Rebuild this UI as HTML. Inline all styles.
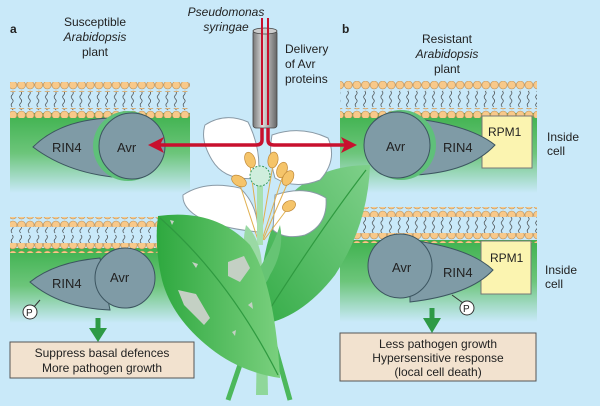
<!DOCTYPE html>
<html><head><style>
body{margin:0;width:600px;height:406px;overflow:hidden;background:#c9e9f9}
svg{display:block}
text{font-family:"Liberation Sans",sans-serif;fill:#222}
</style></head><body>
<svg width="600" height="406" viewBox="0 0 600 406">
<defs>
<pattern id="bead" x="0" y="0" width="8.6" height="10" patternUnits="userSpaceOnUse">
<circle cx="4.3" cy="5" r="4" fill="#f8c98a" stroke="#b88a50" stroke-width="0.6"/>
</pattern>
<pattern id="tail" x="0" y="0" width="8.6" height="18" patternUnits="userSpaceOnUse">
<path d="M3.5 1 q2 2 0 4 q-2 2 0 4 q2 2 0 4 q-2 2 0 4" fill="none" stroke="#333" stroke-width="0.6"/>
</pattern>
<linearGradient id="g" x1="0" y1="0" x2="0" y2="1">
<stop offset="0" stop-color="#3fb24f"/><stop offset="0.5" stop-color="#6cc57a"/><stop offset="1" stop-color="#c9e9f9"/>
</linearGradient>
<linearGradient id="tube" x1="0" x2="1">
<stop offset="0" stop-color="#777"/><stop offset="0.4" stop-color="#ddd"/><stop offset="1" stop-color="#666"/>
</linearGradient>
<linearGradient id="leaf" x1="0" x2="1">
<stop offset="0" stop-color="#2ea83f"/><stop offset="1" stop-color="#7ad07e"/>
</linearGradient>
<linearGradient id="leaf2" x1="1" y1="0" x2="0" y2="1">
<stop offset="0" stop-color="#7fd08a"/><stop offset="1" stop-color="#34ac47"/>
</linearGradient>
</defs>

<g>
<rect x="10" y="113" width="180" height="80" fill="url(#g)"/>
<rect x="10" y="82" width="180" height="10" fill="url(#bead)"/>
<rect x="10" y="92" width="180" height="18" fill="url(#tail)"/>
<rect x="10" y="108" width="180" height="10" fill="url(#bead)"/>
</g>
<g>
<rect x="10" y="248" width="180" height="75" fill="url(#g)"/>
<rect x="10" y="217" width="180" height="10" fill="url(#bead)"/>
<rect x="10" y="227" width="180" height="18" fill="url(#tail)"/>
<rect x="10" y="243" width="180" height="10" fill="url(#bead)"/>
</g>
<g>
<rect x="340" y="113" width="197" height="80" fill="url(#g)"/>
<rect x="340" y="81" width="197" height="10" fill="url(#bead)"/>
<rect x="340" y="91" width="197" height="18" fill="url(#tail)"/>
<rect x="340" y="108" width="197" height="10" fill="url(#bead)"/>
</g>
<g>
<rect x="340" y="240" width="197" height="82" fill="url(#g)"/>
<rect x="340" y="207" width="197" height="10" fill="url(#bead)"/>
<rect x="340" y="217" width="197" height="18" fill="url(#tail)"/>
<rect x="340" y="233" width="197" height="10" fill="url(#bead)"/>
</g>

<path d="M33 147 Q60 120 110 118 L125 178 Q70 175 33 147Z" fill="#7f9ba6" stroke="#3c5560" stroke-width="1"/>
<circle cx="128" cy="146" r="35" fill="#5fc07a"/>
<circle cx="132" cy="146" r="33" fill="#7f9ba6" stroke="#3c5560" stroke-width="1"/>
<text x="52" y="152" font-size="13">RIN4</text>
<text x="117" y="152" font-size="13">Avr</text>

<path d="M30 282 Q55 262 100 258 L110 310 Q60 308 30 282Z" fill="#7f9ba6" stroke="#3c5560" stroke-width="1"/>
<circle cx="125" cy="278" r="30" fill="#7f9ba6" stroke="#3c5560" stroke-width="1"/>
<text x="52" y="288" font-size="13">RIN4</text>
<text x="110" y="282" font-size="13">Avr</text>
<line x1="40" y1="300" x2="33" y2="308" stroke="#333"/>
<circle cx="30" cy="312" r="7" fill="#fff" stroke="#333"/>
<text x="26" y="316" font-size="10">P</text>

<rect x="482" y="116" width="50" height="52" fill="#fbf4b0" stroke="#777"/>
<text x="488" y="136" font-size="12">RPM1</text>
<path d="M410 118 Q470 125 495 145 Q470 172 415 175Z" fill="#7f9ba6" stroke="#3c5560" stroke-width="1"/>
<circle cx="401" cy="145" r="35" fill="#5fc07a"/>
<circle cx="397" cy="145" r="33" fill="#7f9ba6" stroke="#3c5560" stroke-width="1"/>
<text x="386" y="151" font-size="13">Avr</text>
<text x="443" y="152" font-size="13">RIN4</text>

<rect x="481" y="241" width="50" height="53" fill="#fbf4b0" stroke="#777"/>
<text x="490" y="262" font-size="12">RPM1</text>
<path d="M410 240 Q470 248 493 270 Q470 295 410 302Z" fill="#7f9ba6" stroke="#3c5560" stroke-width="1"/>
<circle cx="400" cy="266" r="32" fill="#7f9ba6" stroke="#3c5560" stroke-width="1"/>
<text x="392" y="272" font-size="13">Avr</text>
<text x="443" y="277" font-size="13">RIN4</text>
<line x1="452" y1="295" x2="463" y2="303" stroke="#333"/>
<circle cx="467" cy="308" r="7" fill="#fff" stroke="#333"/>
<text x="463" y="312" font-size="10">P</text>

<path d="M262 300 L228 400 M262 300 L290 400" stroke="#4cb85c" stroke-width="5" fill="none"/>
<path d="M258 290 L256 395 L268 395 L266 290Z" fill="#8fd79a"/>
<path d="M370 165 Q320 165 290 195 Q260 230 258 325 Q300 320 335 275 Q368 225 370 165Z" fill="url(#leaf2)"/>
<path d="M366 170 Q320 230 266 315" stroke="#2f9a40" stroke-width="1.2" fill="none"/>
<path d="M205 125 Q225 112 248 122 Q262 150 258 178 Q225 182 212 160 Q200 140 205 125Z" fill="#fff" stroke="#8a9aa6" stroke-width="1"/>
<path d="M272 135 Q300 125 328 138 Q338 160 320 180 Q295 190 275 178 Q268 155 272 135Z" fill="#fff" stroke="#8a9aa6" stroke-width="1"/>
<path d="M183 195 Q205 180 240 188 Q258 205 258 232 Q220 228 200 218 Q182 208 183 195Z" fill="#fff" stroke="#8a9aa6" stroke-width="1"/>
<path d="M275 195 Q305 185 326 198 Q328 225 305 235 Q285 240 273 230Z" fill="#fff" stroke="#8a9aa6" stroke-width="1"/>
<g stroke="#e0b050" stroke-width="1" fill="none">
<path d="M260 240 L250 165 M260 240 L273 165 M258 240 L240 185 M262 240 L283 175 M263 240 L288 182 M264 240 L288 208"/>
</g>
<rect x="257" y="180" width="6" height="65" fill="#a8e0b0"/>
<circle cx="260" cy="176" r="10" fill="#cfeedd" stroke="#3a9a60" stroke-width="1" stroke-dasharray="2 1.5"/>
<g fill="#f5c46a" stroke="#c08a3a" stroke-width="0.7">
<ellipse cx="250" cy="160" rx="5" ry="8" transform="rotate(-20 250 160)"/>
<ellipse cx="273" cy="160" rx="5" ry="8" transform="rotate(10 273 160)"/>
<ellipse cx="239" cy="181" rx="8" ry="5" transform="rotate(30 239 181)"/>
<ellipse cx="282" cy="170" rx="5" ry="8" transform="rotate(20 282 170)"/>
<ellipse cx="288" cy="178" rx="5" ry="8" transform="rotate(30 288 178)"/>
<ellipse cx="289" cy="206" rx="7" ry="5" transform="rotate(-30 289 206)"/>
</g>
<path d="M246 225 Q240 250 250 275 L262 270 Q262 240 246 225Z" fill="#9ad9a4"/>
<path d="M280 225 Q272 250 255 275 Q262 295 270 275 Q285 250 280 225Z" fill="#66c474"/>
<path d="M158 216 Q215 208 250 245 Q275 285 280 378 Q240 372 210 348 Q172 318 162 280 Q154 245 158 216Z" fill="url(#leaf)"/>
<path d="M160 218 Q230 280 278 375" stroke="#2f9a40" stroke-width="1.2" fill="none"/>
<g fill="#c4d0c4">
<path d="M228 262 L244 256 L250 268 L240 282 L228 276Z"/>
<path d="M178 290 L196 294 L210 318 L204 325 L184 305Z"/>
<path d="M192 262 L198 264 L196 268Z"/>
<path d="M248 305 L252 302 L253 309Z"/>
<path d="M232 332 L236 330 L235 336Z"/>
<path d="M170 220 L174 221 L172 225Z"/>
</g>

<rect x="253" y="30" width="24" height="98" rx="3" fill="url(#tube)" stroke="#444" stroke-width="0.8"/>
<ellipse cx="265" cy="31" rx="12" ry="3" fill="#ccc" stroke="#444" stroke-width="0.8"/>
<path d="M262 18 V125 M268 18 V125" stroke="#c8102e" stroke-width="2"/>
<path d="M262 128 V140 Q262 145 256 145 H160 M268 128 V140 Q268 145 274 145 H345" stroke="#c8102e" stroke-width="3.5" fill="none"/>
<path d="M148 145 L164 137 L160 145 L164 153Z" fill="#c8102e"/>
<path d="M357 145 L341 137 L345 145 L341 153Z" fill="#c8102e"/>

<path d="M98 318 V332 M432 308 V322" stroke="#2e9a46" stroke-width="5"/>
<path d="M89 328 L107 328 L98 342Z M423 318 L441 318 L432 333Z" fill="#2e9a46"/>

<rect x="10" y="342" width="184" height="36" fill="#f2e2cf" stroke="#555"/>
<text x="102" y="357" font-size="12" text-anchor="middle">Suppress basal defences</text>
<text x="102" y="372" font-size="12" text-anchor="middle">More pathogen growth</text>
<rect x="340" y="333" width="196" height="48" fill="#f2e2cf" stroke="#555"/>
<text x="438" y="348" font-size="12" text-anchor="middle">Less pathogen growth</text>
<text x="438" y="362" font-size="12" text-anchor="middle">Hypersensitive response</text>
<text x="438" y="376" font-size="12" text-anchor="middle">(local cell death)</text>

<text x="10" y="33" font-size="12" font-weight="bold">a</text>
<text x="342" y="33" font-size="12" font-weight="bold">b</text>
<text x="95" y="26" font-size="12" text-anchor="middle">Susceptible</text>
<text x="95" y="41" font-size="12" text-anchor="middle" font-style="italic">Arabidopsis</text>
<text x="95" y="56" font-size="12" text-anchor="middle">plant</text>
<text x="447" y="43" font-size="12" text-anchor="middle">Resistant</text>
<text x="447" y="58" font-size="12" text-anchor="middle" font-style="italic">Arabidopsis</text>
<text x="447" y="73" font-size="12" text-anchor="middle">plant</text>
<text x="226" y="16" font-size="12" text-anchor="middle" font-style="italic">Pseudomonas</text>
<text x="226" y="31" font-size="12" text-anchor="middle" font-style="italic">syringae</text>
<text x="285" y="53" font-size="12">Delivery</text>
<text x="285" y="68" font-size="12">of Avr</text>
<text x="285" y="83" font-size="12">proteins</text>
<text x="547" y="141" font-size="12">Inside</text>
<text x="547" y="155" font-size="12">cell</text>
<text x="545" y="274" font-size="12">Inside</text>
<text x="545" y="288" font-size="12">cell</text>
</svg>
</body></html>
